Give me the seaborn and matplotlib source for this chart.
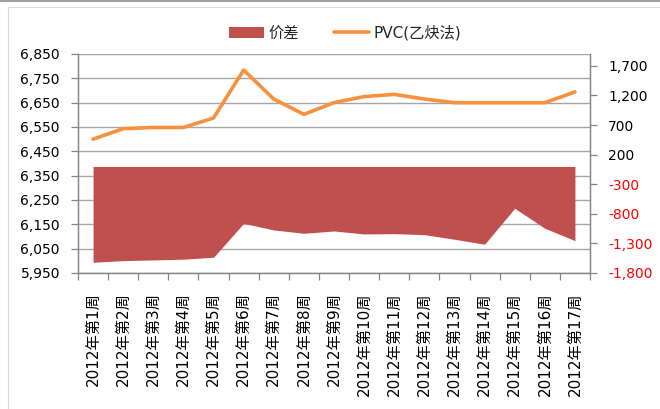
import matplotlib
matplotlib.use("Agg")
import matplotlib.pyplot as plt
import seaborn as sns
import pandas as pd
import numpy as np
from matplotlib.patches import Patch, Rectangle
from matplotlib.lines import Line2D

# Weekly data, 2012
weeks = ["2012年第1周", "2012年第2周", "2012年第3周", "2012年第4周", "2012年第5周",
         "2012年第6周", "2012年第7周", "2012年第8周", "2012年第9周", "2012年第10周",
         "2012年第11周", "2012年第12周", "2012年第13周", "2012年第14周", "2012年第15周",
         "2012年第16周", "2012年第17周"]
pvc = [6500, 6543, 6548, 6548, 6587, 6784, 6665, 6602, 6650, 6675,
       6684, 6665, 6650, 6650, 6650, 6650, 6694]
spread = [-1618, -1591, -1579, -1567, -1534, -960, -1073, -1129, -1090, -1140,
          -1135, -1152, -1230, -1314, -707, -1044, -1253]

left_ticks = [5950, 6050, 6150, 6250, 6350, 6450, 6550, 6650, 6750, 6850]
right_ticks = [-1800, -1300, -800, -300, 200, 700, 1200, 1700]
right_max = 1900

spread_name = "价差"
pvc_name = "PVC(乙炔法)"

AREA = "#C0504D"
LINE = "#F8913D"
GRID = "#A6A6A6"
AXIS = "#868686"

sns.set_theme(style="white")
plt.rcParams["font.family"] = ["DejaVu Sans", "Noto Sans CJK SC"]

df = pd.DataFrame({"pos": np.arange(len(weeks)), "week": weeks,
                   "pvc": pvc, "spread": spread})

fig = plt.figure(figsize=(6.6, 4.09), dpi=100)
ax = fig.add_axes([78 / 660, 1 - 273 / 409, 512 / 660, 219 / 409])
ax2 = ax.twinx()

# price line on the left axis
sns.lineplot(data=df, x="pos", y="pvc", ax=ax, color=LINE, lw=2.6,
             legend=False, solid_capstyle="round", solid_joinstyle="round")
# spread area on the right axis
ax2.fill_between(df["pos"], 0, df["spread"], color=AREA, lw=0)

ax.set_xlim(-0.5, len(weeks) - 0.5)
ax.set_ylim(left_ticks[0], left_ticks[-1])
ax2.set_ylim(right_ticks[0], right_max)

ax.set_yticks(left_ticks, labels=[f"{v:,}" for v in left_ticks])
ax2.set_yticks(right_ticks, labels=[f"{v:,}" for v in right_ticks])
for lab, v in zip(ax2.get_yticklabels(), right_ticks):
    lab.set_color("#FF0000" if v < 0 else "black")

ax.set_xticks(df["pos"], labels=df["week"], rotation=90, fontsize=11)
ax.set_xticks(np.arange(-0.5, len(weeks), 1), minor=True)
ax.set_xlabel("")
ax.set_ylabel("")

ax.grid(axis="y", color=GRID, lw=1.0)
ax.grid(axis="x", visible=False)
ax2.grid(False)

ax.tick_params(axis="x", which="major", length=0, pad=14, colors="black")
ax.tick_params(axis="x", which="minor", length=5, width=0.9, color=AXIS, bottom=True)
ax.tick_params(axis="y", length=5, width=0.9, color=AXIS, pad=8, labelsize=10,
               labelcolor="black", left=True)
ax2.tick_params(axis="y", length=5, width=0.9, color=AXIS, pad=8, labelsize=10, right=True)

for a in (ax, ax2):
    a.spines["top"].set_visible(False)
    for s in ("left", "right", "bottom"):
        a.spines[s].set_color(AXIS)
        a.spines[s].set_linewidth(0.9)

handles = [Patch(facecolor=AREA, edgecolor="none"),
           Line2D([], [], color=LINE, lw=2.6, solid_capstyle="round")]
fig.legend(handles, [spread_name, pvc_name], loc="center",
           bbox_to_anchor=(345 / 660, 1 - 33 / 409), ncol=2, frameon=False,
           fontsize=11, handlelength=2.3, handletextpad=0.3, columnspacing=2.3)

# chart frame
fig.add_artist(Rectangle((8 / 660, -0.1), 1.2, (409 - 7) / 409 + 0.1,
                         transform=fig.transFigure, fill=False,
                         ec="#D9D9D9", lw=0.8))
fig.add_artist(Line2D([0, 1], [1 - 1 / 409] * 2, transform=fig.transFigure,
                      color="#A0A0A0", lw=1.5))

fig.savefig("out.png", dpi=100)
